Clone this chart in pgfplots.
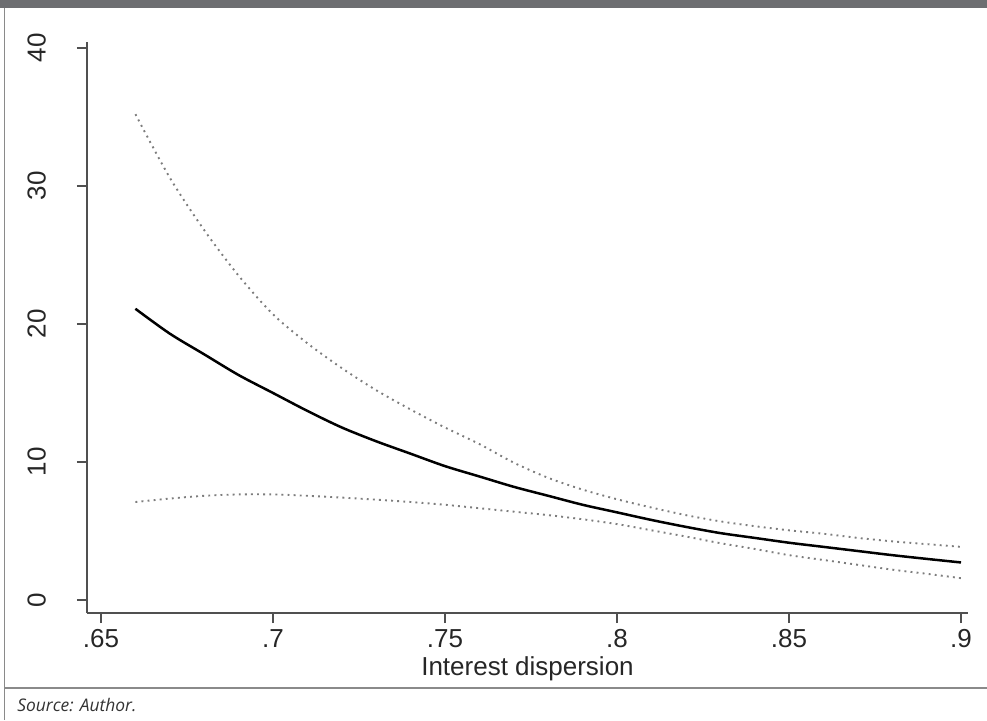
\documentclass[border=0pt]{standalone}
\usepackage{pgfplots}
\pgfplotsset{compat=1.18}
\usepackage{fontspec}
\setmainfont{Liberation Sans}
\newfontfamily\srcfont{Open Sans}

\definecolor{barGray}{RGB}{109,110,113}
\definecolor{frameGray}{RGB}{138,138,138}
\definecolor{ciGray}{RGB}{125,125,125}
\definecolor{axGray}{RGB}{80,80,80}

% fitted value and 95% band
\pgfplotstableread{
x    fit   hi    lo
0.66 21.1  35.2  7.10
0.67 19.3  30.6  7.35
0.68 17.8  26.8  7.55
0.69 16.3  23.5  7.65
0.70 15.0  20.7  7.65
0.71 13.7  18.6  7.55
0.72 12.5  16.8  7.42
0.73 11.5  15.2  7.27
0.74 10.6  13.8  7.10
0.75 9.70  12.5  6.90
0.76 8.95  11.3  6.65
0.77 8.20  9.95  6.40
0.78 7.55  8.85  6.15
0.79 6.90  8.00  5.85
0.80 6.35  7.30  5.50
0.81 5.80  6.70  5.05
0.82 5.30  6.15  4.60
0.83 4.85  5.70  4.12
0.84 4.50  5.35  3.70
0.85 4.15  5.05  3.25
0.86 3.85  4.80  2.90
0.87 3.55  4.50  2.55
0.88 3.25  4.25  2.20
0.89 2.98  4.05  1.90
0.90 2.72  3.85  1.58
}\effects

\begin{document}
\begin{tikzpicture}
\useasboundingbox (0,0) rectangle (493.5pt,360pt);
% frame
\fill[barGray] (0,356pt) rectangle (493.5pt,360pt);
\draw[frameGray, line width=0.75pt] (2.25pt,356pt) -- (2.25pt,0);
\draw[frameGray, line width=0.75pt] (2.25pt,16pt) -- (493.5pt,16pt);
\node[anchor=base west, inner sep=0pt, font=\srcfont\itshape\fontsize{8.7}{10}\selectfont, text=black!80]
  at (8.5pt,4.5pt) {Source: Author.};

\begin{axis}[
    at={(43.5pt,53.5pt)}, anchor=south west,
    scale only axis,
    width=440.5pt, height=285.5pt,
    xmin=0.64593, xmax=0.90203,
    ymin=-0.942, ymax=40.43,
    axis x line*=bottom, axis y line*=left,
    axis line style={-, axGray, line width=0.8pt},
    tick align=outside, major tick length=5pt,
    tick style={axGray, line width=0.7pt},
    xtick={0.65,0.7,0.75,0.8,0.85,0.9},
    xticklabels={.65,.7,.75,.8,.85,.9},
    ytick={0,10,20,30,40},
    /pgf/number format/assume math mode=true,
    ticklabel style={font=\fontsize{13}{15}\selectfont, text=black!85},
    yticklabel style={rotate=90, anchor=south, yshift=12pt},
    xticklabel style={yshift=-2pt, inner sep=1pt},
    xlabel={Interest dispersion},
    xlabel style={font=\fontsize{13}{15}\selectfont, text=black!85, inner sep=1pt, yshift=-2pt},
    clip=false,
]
\addplot[ciGray, line width=0.95pt, dash pattern=on 0.95pt off 2.1pt, smooth] table[x=x, y=hi] {\effects};
\addplot[ciGray, line width=0.95pt, dash pattern=on 0.95pt off 2.1pt, smooth] table[x=x, y=lo] {\effects};
\addplot[black, line width=1.25pt, smooth] table[x=x, y=fit] {\effects};
\end{axis}
\end{tikzpicture}
\end{document}
